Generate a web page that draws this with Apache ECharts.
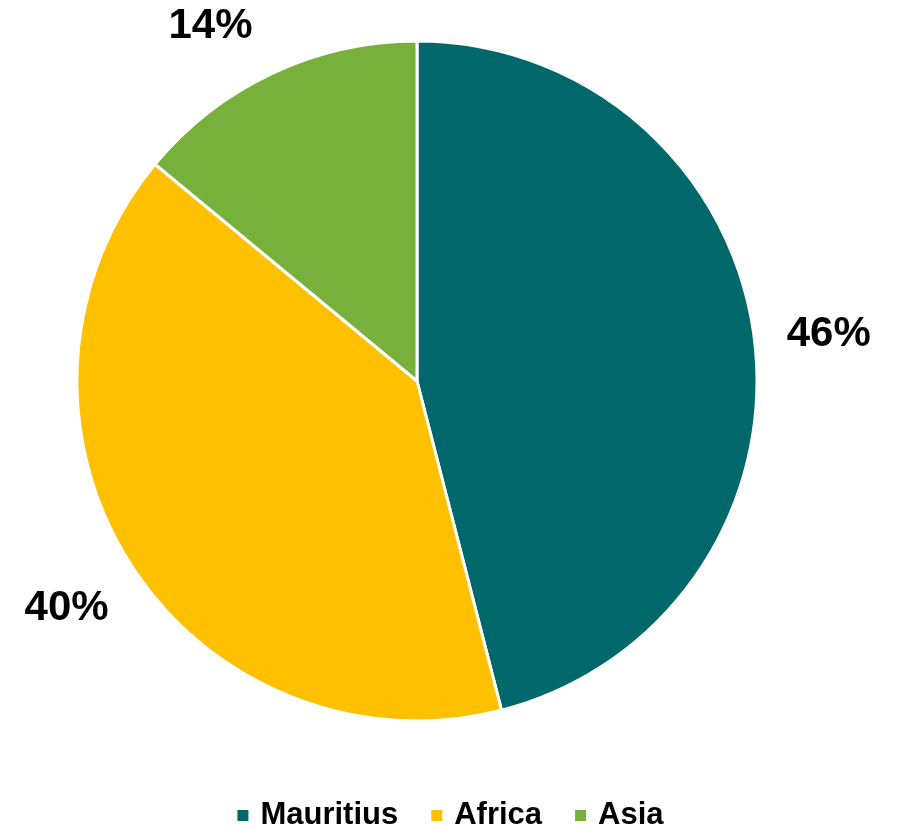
<!DOCTYPE html>
<html>
<head>
<meta charset="utf-8">
<style>
  html, body { margin: 0; padding: 0; background: #ffffff; }
  #chart { width: 899px; height: 831px; }
</style>
<script src="https://cdn.jsdelivr.net/npm/echarts@6/dist/echarts.min.js"></script>
</head>
<body>
<div id="chart"></div>
<script>
// Share by region (percent)
const categories = ['Mauritius', 'Africa', 'Asia'];
const shares = [46, 40, 14];
const colors = ['#00686B', '#FFC000', '#77B03A'];

const pieCenter = [417, 381];
const pieRadius = 340;
const labelGap = 75;

const chart = echarts.init(document.getElementById('chart'), null, { renderer: 'canvas' });

const option = {
  backgroundColor: '#ffffff',
  animation: false,
  color: colors,
  legend: {
    bottom: -5,
    left: 'center',
    icon: 'rect',
    itemWidth: 13,
    itemHeight: 13,
    itemGap: 31,
    textStyle: {
      fontFamily: 'Liberation Sans, Arial, sans-serif',
      fontWeight: 'bold',
      fontSize: 31,
      color: '#000000',
      padding: [0, 0, 0, 6]
    },
    data: categories
  },
  series: [{
    type: 'pie',
    center: pieCenter,
    radius: pieRadius,
    startAngle: 90,
    clockwise: true,
    avoidLabelOverlap: false,
    itemStyle: { borderColor: '#ffffff', borderWidth: 3 },
    label: {
      show: true,
      position: 'outside',
      formatter: '{c}%',
      fontFamily: 'Liberation Sans, Arial, sans-serif',
      fontWeight: 'bold',
      fontSize: 42,
      color: '#000000'
    },
    labelLine: { show: false, length: labelGap, length2: 0 },
    // Centre each label on the slice's mid-angle beyond the rim; when a
    // label would leave the top of the canvas, slide it along the same
    // circle until it fits.
    labelLayout: function (params) {
      const pts = params.labelLinePoints;
      if (!pts) return {};
      let x = pts[1][0];
      let y = pts[1][1];
      const dist = Math.hypot(x - pieCenter[0], y - pieCenter[1]);
      const minY = params.labelRect.height / 2;
      if (y < minY) {
        y = minY;
        const dy = y - pieCenter[1];
        const dx = Math.sqrt(Math.max(dist * dist - dy * dy, 0));
        x = pieCenter[0] + (x < pieCenter[0] ? -dx : dx);
      }
      return { x: x, y: y + 5, align: 'center', verticalAlign: 'middle' };
    },
    emphasis: { disabled: true },
    data: categories.map((name, i) => ({ name: name, value: shares[i] }))
  }]
};

chart.setOption(option);
</script>
</body>
</html>
